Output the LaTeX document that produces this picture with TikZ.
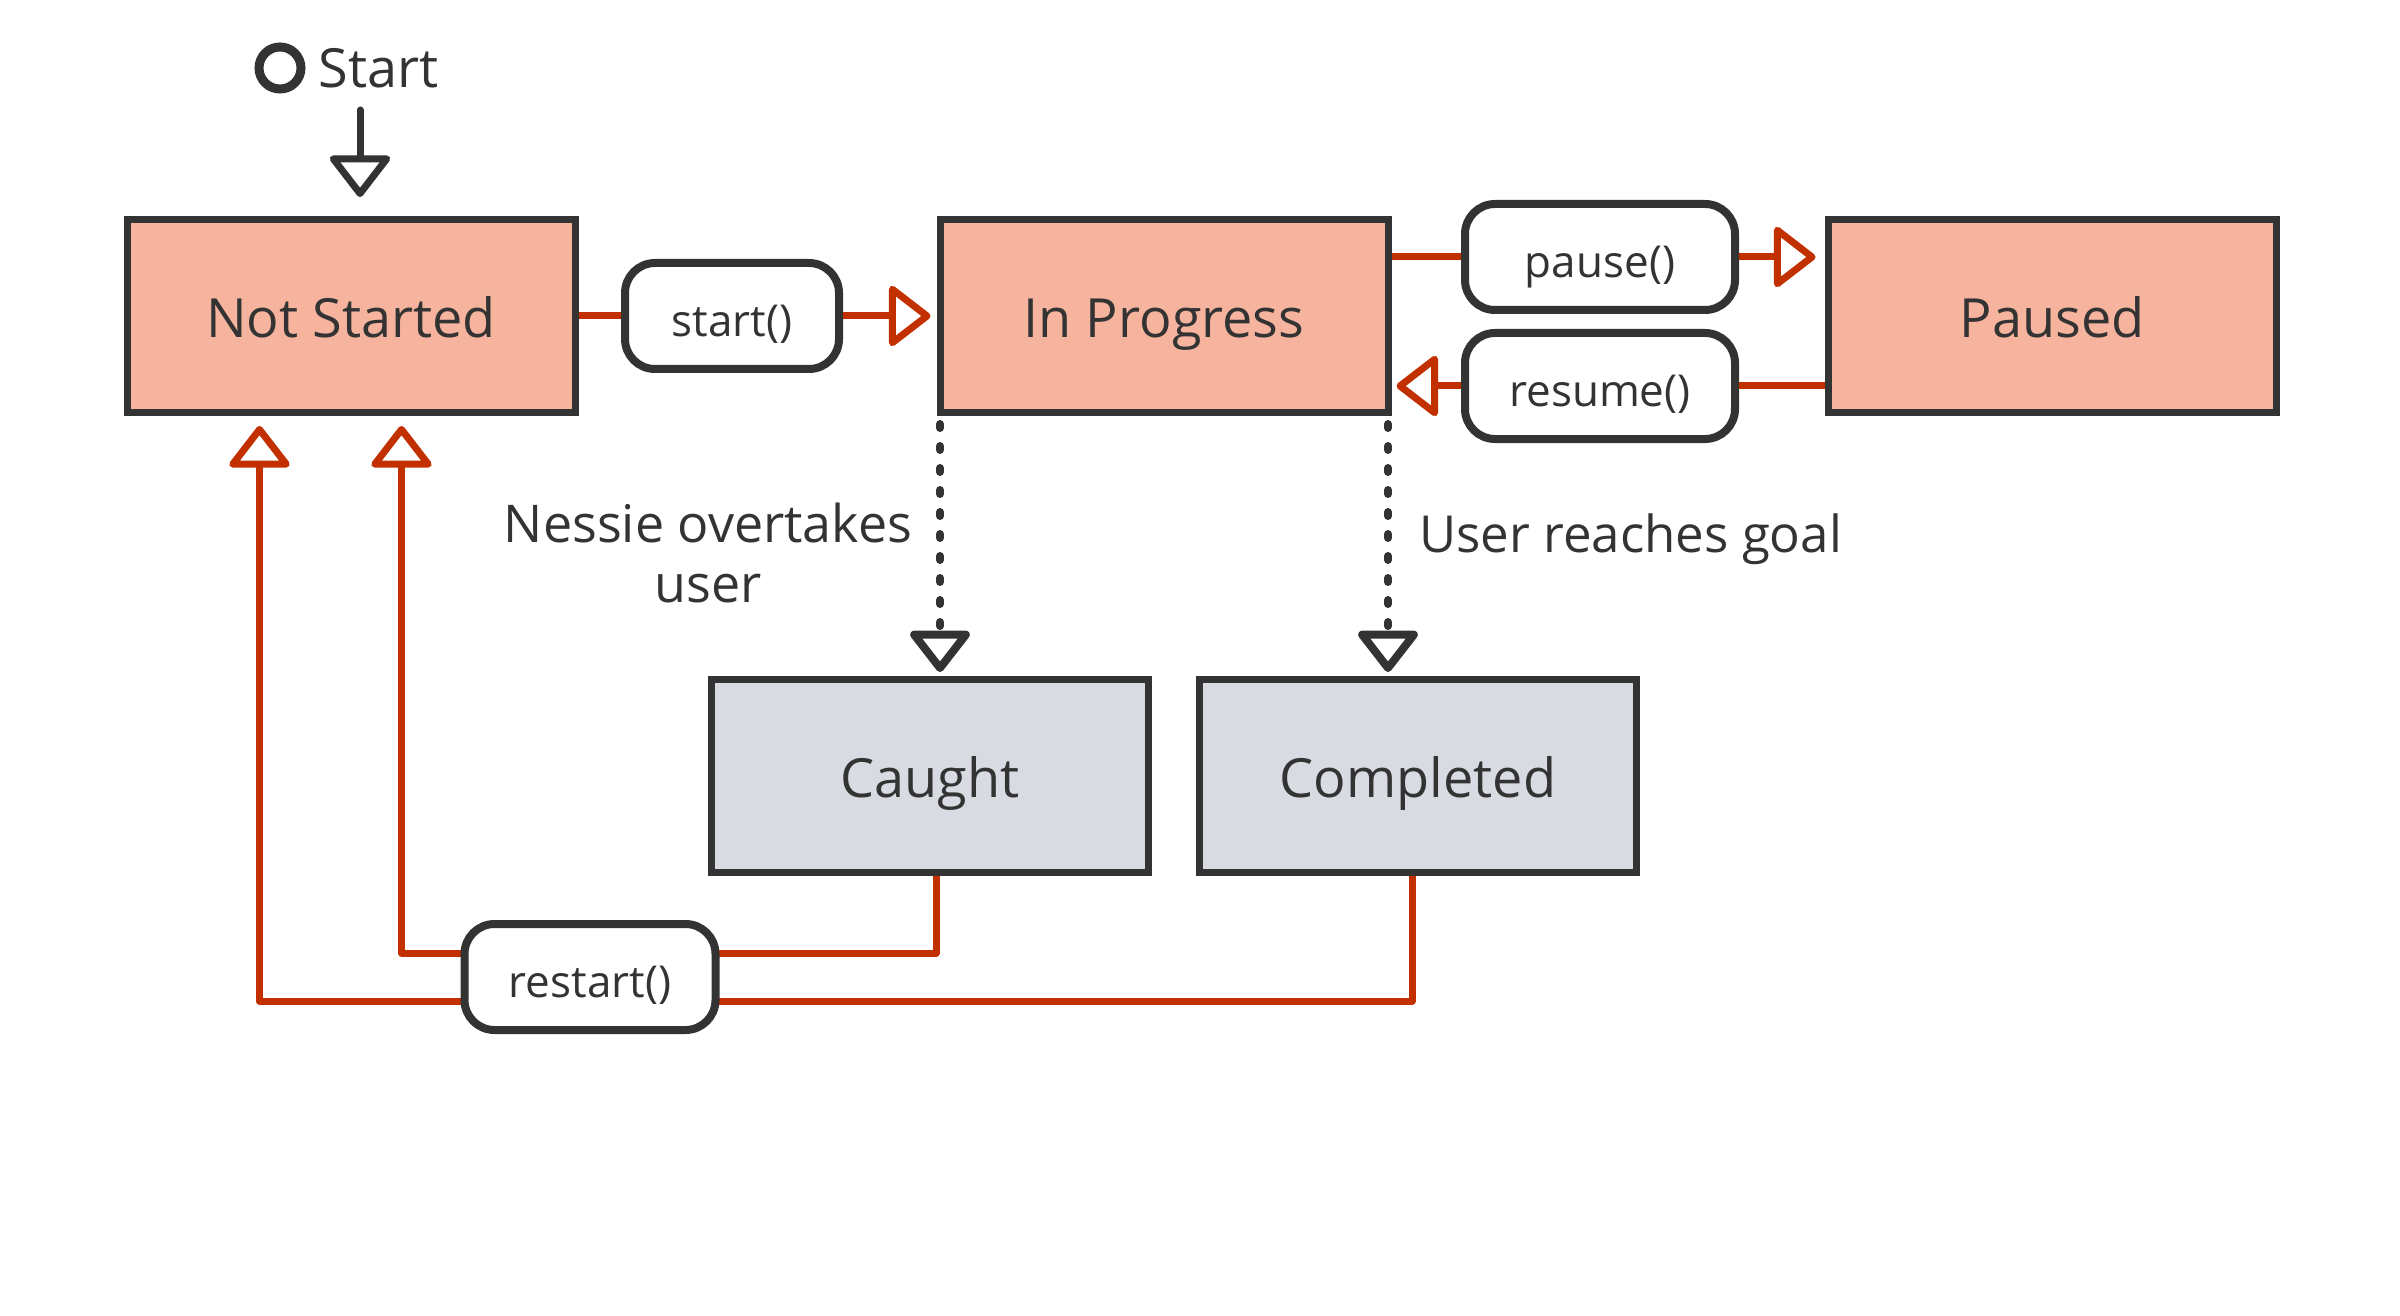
\documentclass[tikz,border=0pt]{standalone}
\usepackage{fontspec}
\setmainfont{Open Sans}
\usetikzlibrary{arrows.meta,backgrounds}

\definecolor{ink}{HTML}{333333}
\definecolor{salmon}{HTML}{F6B39D}
\definecolor{slate}{HTML}{D8DBE2}
\definecolor{rust}{HTML}{C23000}

\tikzset{
  state/.style={draw=ink, line width=3.5pt, minimum width=224pt, minimum height=96.5pt,
    inner sep=0pt, text=ink, font=\fontsize{27}{32}\selectfont, text height=21pt, text depth=0pt},
  active/.style={fill=salmon},
  final/.style={fill=slate, minimum width=218.5pt},
  call/.style={draw=ink, fill=white, line width=4pt, rounded corners=15pt,
    minimum height=53pt, inner sep=0pt, text=ink, font=\fontsize{22}{26}\selectfont,
    text height=20.5pt, text depth=0pt},
  flow/.style={draw=rust, line width=3.5pt, line join=round},
  guard/.style={draw=ink, line width=4pt, dash pattern=on 2pt off 9pt, line cap=round},
  note/.style={text=ink, align=center, inner sep=0pt, font=\fontsize{26}{30}\selectfont},
}

\begin{document}
\begin{tikzpicture}[x=0.5pt, y=-0.5pt, >={Triangle[open, round, length=22pt, width=33pt]}]

\useasboundingbox (0,0) rectangle (2400,1316);

\foreach \n/\t/\x/\y/\c in {not-started/Not Started/351/316/active,
                            in-progress/In Progress/1164/316/active,
                            paused/Paused/2052/316/active,
                            caught/Caught/930/776/final,
                            completed/Completed/1418/776/final}
  \node [state, \c] (\n) at (\x,\y) {\t};

\foreach \n/\t/\x/\y/\w in {call-start/start()/732/316/107pt,
                            call-pause/pause()/1600/257/135pt,
                            call-resume/resume()/1600/386/135pt,
                            call-restart/restart()/590/977/125.5pt}
  \node [call, minimum width=\w] (\n) at (\x,\y) {\t};

% initial state
\node [circle, draw=ink, line width=4.5pt, minimum size=21pt, inner sep=0pt] (start-dot) at (280,68) {};
\node [note, anchor=base west, font=\fontsize{27}{32}\selectfont] (start-label) at (318,88) {Start};
\coordinate (init) at (360,110);
\draw [draw=ink, line width=3.5pt, line cap=round, ->, shorten >=9.5pt] (init) -- (init |- not-started.north);

\draw [flow] (not-started) -- (call-start);
\draw [flow, ->, shorten >=3pt] (call-start) -- (in-progress);

\draw [flow] (in-progress.east |- call-pause) -- (call-pause);
\draw [flow, ->, shorten >=4.5pt] (call-pause) -- (paused.west |- call-pause);

\draw [flow] (paused.west |- call-resume) -- (call-resume);
\draw [flow, ->, shorten >=2.5pt] (call-resume) -- (in-progress.east |- call-resume);

\coordinate (lost) at ([xshift=1.75pt]in-progress.south west);
\coordinate (won) at ([xshift=-1.75pt]in-progress.south east);
\draw [guard, ->, shorten <=4pt, shorten >=2pt] (lost) -- (lost |- caught.north);
\draw [guard, ->, shorten <=4pt, shorten >=2pt] (won) -- (won |- completed.north);

\node [note] (lost-note) at (708,553) {Nessie overtakes\\user};
\node [note, anchor=base west, font=\fontsize{25.5}{30}\selectfont] (won-note) at (1419,552) {User reaches goal};

\begin{scope}[on background layer]
\draw [flow, ->, shorten >=5pt] ([xshift=3pt]caught.south) |- ([yshift=12pt]call-restart.center)
  -| ([xshift=25.25pt]not-started.south);
\draw [flow, ->, shorten >=5pt] ([xshift=-3pt]completed.south) |- ([yshift=-12pt]call-restart.center)
  -| ([xshift=-45.75pt]not-started.south);
\end{scope}

\end{tikzpicture}
\end{document}
